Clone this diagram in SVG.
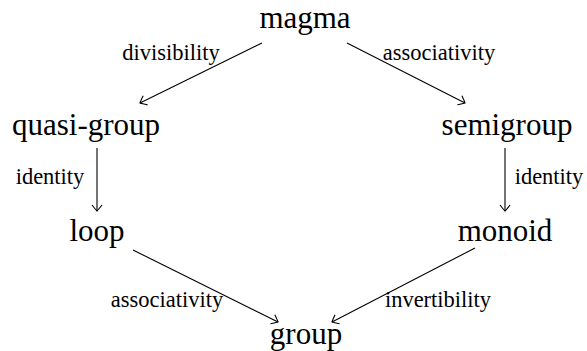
<svg xmlns="http://www.w3.org/2000/svg" width="587" height="351" viewBox="0 0 587 351">
<style>
.node{font-size:31px;fill:#000;text-anchor:middle}
.lbl{font-size:22.5px;fill:#000;text-anchor:middle}
.edge{stroke:#000;stroke-width:1.1;fill:none;marker-end:url(#to)}
</style>
<defs>
<marker id="to" viewBox="-8 -6 10 12" markerWidth="10" markerHeight="12" refX="0" refY="0" orient="auto" markerUnits="userSpaceOnUse">
<path d="M -6,-5 Q -1.5,-1.5 0,0 Q -1.5,1.5 -6,5" stroke="#000" stroke-width="1.1" fill="none"/>
</marker>
</defs>
<rect width="587" height="351" fill="#fff"/>
<g id="connectors" font-family="Liberation Serif, DejaVu Serif, serif">
<path class="edge" d="M262,43 L140,103"/>
<path class="edge" d="M347,43 L465,103"/>
<path class="edge" d="M97,148 L97,211"/>
<path class="edge" d="M505,148 L505,211"/>
<path class="edge" d="M133,250 L278,322"/>
<path class="edge" d="M475,248 L332,322"/>
<text class="lbl" x="171" y="60">divisibility</text>
<text class="lbl" x="439" y="60">associativity</text>
<text class="lbl" x="50" y="184">identity</text>
<text class="lbl" x="549" y="184">identity</text>
<text class="lbl" x="167" y="307">associativity</text>
<text class="lbl" x="438" y="307">invertibility</text>
</g>
<g font-family="Liberation Serif, DejaVu Serif, serif">
<g id="magma"><text class="node" x="305" y="28">magma</text></g>
<g id="quasi-group"><text class="node" x="86" y="135">quasi-group</text></g>
<g id="semigroup"><text class="node" x="507" y="135">semigroup</text></g>
<g id="loop"><text class="node" x="97" y="241">loop</text></g>
<g id="monoid"><text class="node" x="505" y="241">monoid</text></g>
<g id="group"><text class="node" x="306" y="344">group</text></g>
</g>
</svg>
